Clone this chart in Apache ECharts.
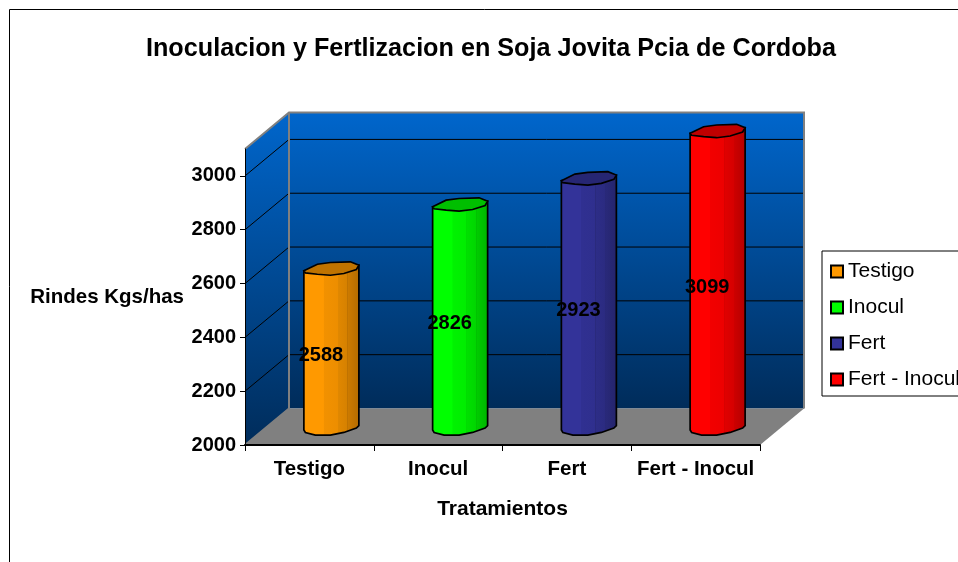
<!DOCTYPE html>
<html lang="en">

<head>
    <meta charset="UTF-8">
    <title>Soja Jovita</title>
    <script src="https://cdn.jsdelivr.net/npm/echarts@6/dist/echarts.min.js"></script>
    <style>
        html, body { margin: 0; padding: 0; background: #fff; }
    </style>
</head>

<body>
    <div id="container" style="width: 958px; height: 562px"></div>
    <script>
        const categories = ['Testigo', 'Inocul', 'Fert', 'Fert - Inocul'];
        const rindes = [2588, 2826, 2923, 3099];
        const colors = ['#ff9900', '#00ff00', '#333399', '#ff0000'];
        const yTicks = [2000, 2200, 2400, 2600, 2800, 3000];
        const yMin = 2000;
        const yMax = 3100;

        const fontName = '"Liberation Sans", Arial, sans-serif';
        // profundidad del grafico 3D
        const depthX = 44;
        const depthY = -36.5;
        // contorno del cilindro, relativo a su centro (tapa y base algo irregulares)
        const capShape = [[-27.5, 2.3], [-14, -4.3], [-1, -6], [19, -6.7], [27.5, -3.3], [25, 1], [12.5, 5], [-1, 6.7], [-14, 5.7], [-26, 4.3]];
        const baseShape = [[27.5, -1], [25, 1.3], [12.5, 5.7], [-1, 8.3], [-16, 8.3], [-26, 5.7], [-27.5, 3.3]];

        function shade(hex, k) {
            const n = parseInt(hex.slice(1), 16);
            const r = Math.round((n >> 16 & 255) * k);
            const g = Math.round((n >> 8 & 255) * k);
            const b = Math.round((n & 255) * k);
            return 'rgb(' + r + ',' + g + ',' + b + ')';
        }

        function wallGradient() {
            return new echarts.graphic.LinearGradient(0, 0, 0, 1, [
                { offset: 0, color: '#0066cc' },
                { offset: 1, color: '#002c5a' }
            ]);
        }

        function bodyGradient(color) {
            return new echarts.graphic.LinearGradient(0, 0, 1, 0, [
                { offset: 0, color: shade(color, 1) },
                { offset: 0.36, color: shade(color, 1) },
                { offset: 0.37, color: shade(color, 0.95) },
                { offset: 0.61, color: shade(color, 0.93) },
                { offset: 0.615, color: shade(color, 0.8) },
                { offset: 0.625, color: shade(color, 0.88) },
                { offset: 0.78, color: shade(color, 0.84) },
                { offset: 0.785, color: shade(color, 0.74) },
                { offset: 0.795, color: shade(color, 0.8) },
                { offset: 1, color: shade(color, 0.7) }
            ]);
        }

        function renderWalls(params, api) {
            const left = api.coord([categories[0], yMin])[0] - params.coordSys.width / 8;
            const right = left + params.coordSys.width;
            const yBottom = api.coord([categories[0], yMin])[1];
            const yTop = api.coord([categories[0], yMax])[1];
            const children = [];
            const gray = '#808080';

            children.push({
                type: 'polygon',
                shape: { points: [[left, yBottom], [left + depthX, yBottom + depthY], [left + depthX, yTop + depthY], [left, yTop]] },
                style: { fill: wallGradient() }
            });
            children.push({
                type: 'rect',
                shape: { x: left + depthX, y: yTop + depthY, width: right - left, height: yBottom - yTop },
                style: { fill: wallGradient() }
            });
            children.push({
                type: 'polygon',
                shape: { points: [[left, yBottom], [right, yBottom], [right + depthX, yBottom + depthY], [left + depthX, yBottom + depthY]] },
                style: { fill: gray }
            });
            yTicks.slice(1).forEach(function (t) {
                const y = api.coord([categories[0], t])[1];
                children.push({
                    type: 'polyline',
                    shape: { points: [[left, y], [left + depthX, y + depthY], [right + depthX, y + depthY]] },
                    style: { fill: null, stroke: '#000', lineWidth: 1 }
                });
            });
            children.push({
                type: 'polyline',
                shape: { points: [[left, yTop], [left + depthX, yTop + depthY], [right + depthX, yTop + depthY], [right + depthX, yBottom + depthY]] },
                style: { fill: null, stroke: gray, lineWidth: 2 }
            });
            children.push({
                type: 'polyline',
                shape: { points: [[left + depthX, yTop + depthY], [left + depthX, yBottom + depthY], [left, yBottom]] },
                style: { fill: null, stroke: gray, lineWidth: 2 }
            });
            return { type: 'group', children: children };
        }

        function shift(shape, cx, cy) {
            return shape.map(function (p) { return [cx + p[0], cy + p[1]]; });
        }

        function makeCylinder(color) {
            return function (params, api) {
                const top = api.coord([api.value(0), api.value(1)]);
                const base = api.coord([api.value(0), yMin]);
                const cx = top[0] + depthX / 2;
                const cyTop = top[1] + depthY / 2;
                const cyBase = base[1] + depthY / 2;

                const sides = [[cx - 27.5, cyTop + 2.3], [cx + 27.5, cyTop - 3.3]];
                return {
                    type: 'group',
                    children: [
                        {
                            type: 'polygon',
                            shape: { points: sides.concat(shift(baseShape, cx, cyBase)) },
                            style: { fill: bodyGradient(color), stroke: '#000', lineWidth: 1.7 }
                        },
                        {
                            type: 'polygon',
                            shape: { points: shift(capShape, cx, cyTop) },
                            style: { fill: shade(color, 0.75), stroke: '#000', lineWidth: 1.7 }
                        },
                        {
                            type: 'text',
                            style: {
                                text: String(api.value(1)),
                                x: top[0] + 11.5,
                                y: (top[1] + base[1]) / 2 - 10,
                                textAlign: 'center',
                                textVerticalAlign: 'middle',
                                font: 'bold 20px ' + fontName,
                                fill: '#000'
                            }
                        }
                    ]
                };
            };
        }

        const chart = echarts.init(document.getElementById('container'));

        const series = [{
            name: 'paredes',
            type: 'custom',
            silent: true,
            z: 1,
            data: [[categories[0], yMin]],
            encode: { x: 0, y: 1 },
            renderItem: renderWalls
        }];
        categories.forEach(function (name, i) {
            series.push({
                name: name,
                type: 'custom',
                z: 10,
                itemStyle: { color: colors[i], borderColor: '#000', borderWidth: 1 },
                data: [[name, rindes[i]]],
                encode: { x: 0, y: 1 },
                renderItem: makeCylinder(colors[i])
            });
        });

        chart.setOption({
            animation: false,
            backgroundColor: '#fff',
            textStyle: { fontFamily: fontName },
            title: {
                text: 'Inoculacion y Fertlizacion en Soja Jovita Pcia de Cordoba',
                left: 486,
                top: 32,
                textAlign: 'center',
                textStyle: { fontFamily: fontName, fontSize: 25.2, fontWeight: 'bold', color: '#000' }
            },
            legend: {
                data: categories,
                orient: 'vertical',
                left: 822,
                top: 251,
                padding: [10, 10, 6, 8],
                itemWidth: 12,
                itemHeight: 12,
                itemGap: 15,
                icon: 'rect',
                selectedMode: false,
                borderColor: '#000',
                borderWidth: 1,
                backgroundColor: '#fff',
                textStyle: { fontFamily: fontName, fontSize: 21, color: '#000' }
            },
            grid: { left: 245, right: 198, top: 149, bottom: 117, outerBoundsMode: 'none' },
            xAxis: {
                type: 'category',
                data: categories,
                z: 3,
                name: 'Tratamientos',
                nameLocation: 'middle',
                nameGap: 54,
                nameTextStyle: { fontFamily: fontName, fontSize: 21, fontWeight: 'bold', color: '#000' },
                axisLine: { lineStyle: { color: '#000', width: 2 } },
                axisTick: { show: true, length: 6, interval: 0, lineStyle: { color: '#000' } },
                axisLabel: { interval: 0, margin: 14, fontFamily: fontName, fontSize: 20.5, fontWeight: 'bold', color: '#000' },
                splitLine: { show: false }
            },
            yAxis: {
                type: 'value',
                min: yMin,
                max: yMax,
                interval: 200,
                z: 3,
                name: 'Rindes Kgs/has',
                nameLocation: 'middle',
                nameRotate: 0,
                nameGap: 61,
                nameTextStyle: { fontFamily: fontName, fontSize: 20.5, fontWeight: 'bold', color: '#000' },
                axisLine: { show: true, lineStyle: { color: '#000', width: 1 } },
                axisTick: { show: true, length: 5, customValues: yTicks, lineStyle: { color: '#000' } },
                axisLabel: { margin: 9, customValues: yTicks, formatter: function (v) { return String(v); }, fontFamily: fontName, fontSize: 20, fontWeight: 'bold', color: '#000' },
                splitLine: { show: false }
            },
            graphic: [{
                type: 'rect',
                z: -1,
                silent: true,
                shape: { x: 9.5, y: 9.5, width: 1000, height: 600 },
                style: { fill: null, stroke: '#000', lineWidth: 1 }
            }],
            series: series
        });
    </script>
</body>

</html>
